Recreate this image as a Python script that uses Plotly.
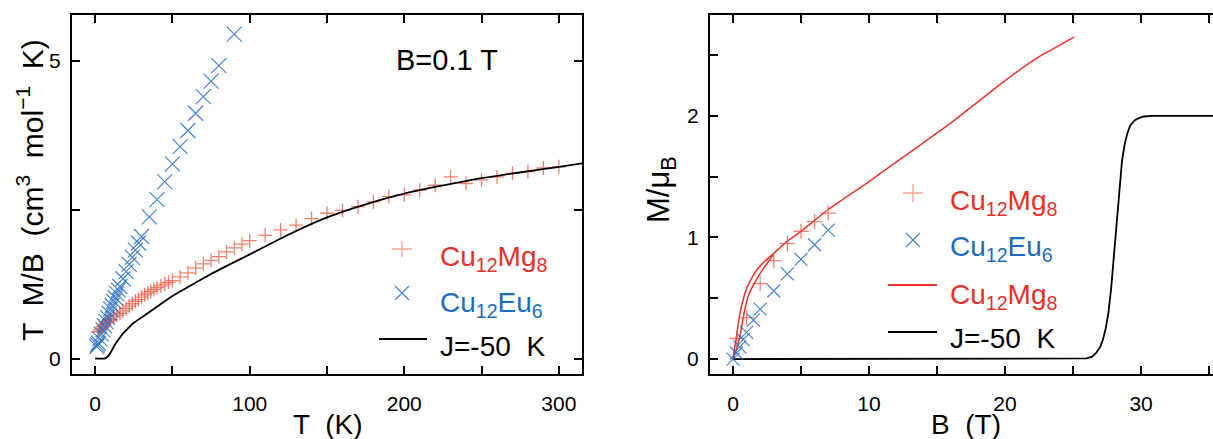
import plotly.graph_objects as go

W, H = 1213, 439
TOP, BOT = 15, 374

# ---------------- Left panel data: T M/B vs T ----------------
T_mg = [2, 3, 4, 5, 6, 7, 8, 9, 10, 12, 14, 16, 18, 20, 22, 24, 26, 28, 30, 32, 34, 36, 38, 40,
        42.5, 45, 47.5, 50, 55, 60, 65, 70, 75, 80, 85, 90, 95, 100, 110, 120, 130, 140, 150,
        160, 170, 180, 190, 200, 210, 220, 230, 240, 250, 260, 270, 280, 290, 300]
chi_mg = [0.45, 0.48, 0.51, 0.54, 0.57, 0.60, 0.62, 0.64, 0.66, 0.70, 0.73, 0.76, 0.80, 0.84,
          0.88, 0.92, 0.96, 0.99, 1.03, 1.07, 1.10, 1.13, 1.16, 1.19, 1.22, 1.25, 1.28, 1.31,
          1.37, 1.44, 1.52, 1.59, 1.65, 1.71, 1.79, 1.86, 1.92, 1.98, 2.07, 2.16, 2.24, 2.35,
          2.44, 2.49, 2.55, 2.63, 2.72, 2.75, 2.83, 2.91, 3.05, 2.94, 3.00, 3.05, 3.11, 3.14,
          3.20, 3.22]

T_eu = [1, 1.5, 2, 3, 4, 5, 6, 7, 8, 9, 10, 11, 12, 13, 14, 15, 16, 18, 20, 22, 24, 26, 28, 30,
        35, 40, 45, 50, 55, 60, 65, 70, 75, 80, 90]
chi_eu = [0.20, 0.23, 0.26, 0.33, 0.41, 0.48, 0.55, 0.62, 0.69, 0.76, 0.83, 0.89, 0.96, 1.02,
          1.09, 1.15, 1.21, 1.34, 1.46, 1.58, 1.70, 1.82, 1.94, 2.05, 2.38, 2.67, 2.97, 3.27,
          3.56, 3.83, 4.12, 4.40, 4.66, 4.92, 5.45]

T_fit = [0, 6, 8, 10, 12, 14, 16, 18, 21, 25, 30, 40, 50, 60, 75, 100, 125, 150, 175, 200,
         250, 300, 316]
chi_fit = [0, 0, 0.03, 0.10, 0.20, 0.28, 0.35, 0.42, 0.50, 0.60, 0.69, 0.87, 1.05, 1.20, 1.42,
           1.75, 2.08, 2.37, 2.59, 2.77, 3.03, 3.22, 3.28]

# ---------------- Right panel data: M vs B ----------------
B_mg = [0.3, 1, 2, 3, 4, 5, 6, 7]
M_mg = [0.17, 0.34, 0.62, 0.81, 0.95, 1.05, 1.13, 1.20]

B_eu = [0, 0.25, 0.5, 0.75, 1.0, 1.5, 2, 3, 4, 5, 6, 7]
M_eu = [0, 0.05, 0.10, 0.16, 0.22, 0.32, 0.41, 0.56, 0.70, 0.82, 0.94, 1.06]

B_calc_a = [0, 0.12, 0.25, 0.5, 0.8, 1.0, 1.3, 1.8, 2.4, 3.0, 4, 5, 7, 10, 13, 16, 20, 22, 23,
            24, 25.1]
M_calc_a = [0, 0.09, 0.18, 0.37, 0.51, 0.58, 0.65, 0.74, 0.81, 0.87, 0.97, 1.05, 1.23, 1.46,
            1.70, 1.94, 2.29, 2.45, 2.52, 2.58, 2.65]
B_calc_b = [0, 0.25, 0.5, 0.8, 1.1, 1.4, 1.7, 2.2, 2.6, 3.0]
M_calc_b = [0, 0.08, 0.18, 0.37, 0.51, 0.59, 0.65, 0.74, 0.80, 0.87]

B_J = [0, 25.5, 26.0, 26.4, 26.7, 27.0, 27.2, 27.4, 27.6, 27.8, 28.0, 28.2, 28.4, 28.6, 28.8,
       29.0, 29.2, 29.5, 29.8, 30.2, 30.8, 36]
M_J = [0, 0, 0.005, 0.02, 0.05, 0.10, 0.16, 0.25, 0.38, 0.58, 0.85, 1.15, 1.42, 1.63, 1.77,
       1.86, 1.92, 1.96, 1.98, 1.995, 2.0, 2.0]

left_xticks = [0, 100, 200, 300]
left_xminor = [50, 150, 250]
left_yticks = [0, 5]
left_yminor = [2.5]
right_xticks = [0, 10, 20, 30]
right_xminor = [5, 15, 25, 35]
right_yticks = [0, 1, 2]
right_yminor = [0.5, 1.5, 2.5]

RED_M = "rgba(240,85,65,0.75)"
RED_L = "rgba(245,140,115,0.8)"
BLUE_M = "rgba(40,110,200,0.85)"
RED_T = "#e8302a"
BLUE_T = "#1c6cc0"
RED_LINE = "#e8352b"
FONT = "Liberation Sans, Arial, sans-serif"


def px(x):
    return x / W


def py(y):
    return (BOT - y) / (BOT - TOP)


fig = go.Figure()

fig.add_trace(go.Scatter(x=T_mg, y=chi_mg, mode="markers", xaxis="x", yaxis="y",
                         marker=dict(symbol="cross-thin", size=10,
                                     line=dict(color=RED_M, width=1.3))))
fig.add_trace(go.Scatter(x=T_eu, y=chi_eu, mode="markers", xaxis="x", yaxis="y",
                         marker=dict(symbol="x-thin", size=15,
                                     line=dict(color=BLUE_M, width=1.2))))
fig.add_trace(go.Scatter(x=T_fit, y=chi_fit, mode="lines", xaxis="x", yaxis="y",
                         line=dict(color="black", width=1.8, shape="spline", smoothing=0.6)))

fig.add_trace(go.Scatter(x=B_calc_a, y=M_calc_a, mode="lines", xaxis="x2", yaxis="y2",
                         line=dict(color=RED_LINE, width=1.5, shape="spline", smoothing=0.5)))
fig.add_trace(go.Scatter(x=B_calc_b, y=M_calc_b, mode="lines", xaxis="x2", yaxis="y2",
                         line=dict(color=RED_LINE, width=1.5, shape="spline", smoothing=0.5)))
fig.add_trace(go.Scatter(x=B_J, y=M_J, mode="lines", xaxis="x2", yaxis="y2",
                         line=dict(color="black", width=1.8)))
fig.add_trace(go.Scatter(x=B_mg, y=M_mg, mode="markers", xaxis="x2", yaxis="y2",
                         marker=dict(symbol="cross-thin", size=11,
                                     line=dict(color=RED_M, width=1.3))))
fig.add_trace(go.Scatter(x=B_eu, y=M_eu, mode="markers", xaxis="x2", yaxis="y2",
                         marker=dict(symbol="x-thin", size=13,
                                     line=dict(color=BLUE_M, width=1.2))))


def axis(domain, rng, ticks, minor, mirror, anchor, standoff):
    return dict(domain=domain, range=rng, tickmode="array", tickvals=ticks,
                minor=dict(tickmode="array", tickvals=minor, ticks="inside", ticklen=8,
                           tickwidth=2, tickcolor="black"),
                mirror=mirror, anchor=anchor, showline=True, linewidth=2, linecolor="black",
                ticks="inside", ticklen=8, tickwidth=2, tickcolor="black", showgrid=False,
                zeroline=False, ticklabelstandoff=standoff,
                tickfont=dict(family=FONT, size=21, color="black"))


fig.update_layout(
    width=W, height=H, margin=dict(l=0, r=0, t=TOP, b=H - BOT),
    paper_bgcolor="white", plot_bgcolor="white", showlegend=False,
    font=dict(family=FONT, color="black"),
    xaxis=axis([px(72), px(582)], [-15, 315], left_xticks, left_xminor, "ticks", "y", 10),
    yaxis=axis([0, 1], [-0.26, 5.77], left_yticks, left_yminor, "ticks", "x", 5),
    xaxis2=axis([px(710), 1.0], [-1.69, 35.29], right_xticks, right_xminor, "ticks", "y2", 10),
    yaxis2=axis([0, 1], [-0.123, 2.83], right_yticks, right_yminor, False, "x2", 5),
)

ann = []


def text(x, y, s, size=28, color="black", xanchor="left", angle=0):
    ann.append(dict(x=px(x), y=py(y), xref="paper", yref="paper", text=s, showarrow=False,
                    xanchor=xanchor, yanchor="middle", textangle=angle,
                    font=dict(family=FONT, size=size, color=color)))


MG = "Cu<sub>12</sub>Mg<sub>8</sub>"
EU = "Cu<sub>12</sub>Eu<sub>6</sub>"
JL = "J=-50  K"

# left panel texts
text(394, 60, "B=0.1 T", size=29)
text(438, 258, MG, color=RED_T)
text(438, 304, EU, color=BLUE_T)
text(438, 346, JL)
# right panel texts
text(948, 202, MG, color=RED_T)
text(948, 249, EU, color=BLUE_T)
text(948, 296, MG, color=RED_T)
text(948, 338, JL)
# axis titles
text(327, 424, "T  (K)", xanchor="center")
text(966, 424, "B  (T)", xanchor="center")
text(30, 190, "T  M/B  (cm<sup>3</sup>  mol<sup>\u22121</sup>  K)", size=30, xanchor="center",
     angle=-90)
text(661, 190, "M/\u03bc<sub>B</sub>", size=31, xanchor="center", angle=-90)

shapes = []


def plus(x, y, hx, hy, color):
    shapes.append(dict(type="path", xref="paper", yref="paper", xsizemode="pixel",
                       ysizemode="pixel", xanchor=px(x), yanchor=py(y),
                       path=f"M{-hx},0H{hx}M0,{-hy}V{hy}",
                       line=dict(color=color, width=1.3)))


def cross(x, y, h, color):
    shapes.append(dict(type="path", xref="paper", yref="paper", xsizemode="pixel",
                       ysizemode="pixel", xanchor=px(x), yanchor=py(y),
                       path=f"M{-h},{-h}L{h},{h}M{-h},{h}L{h},{-h}",
                       line=dict(color=color, width=1.2)))


def seg(x0, x1, y, color):
    shapes.append(dict(type="line", xref="paper", yref="paper", x0=px(x0), x1=px(x1),
                       y0=py(y), y1=py(y), line=dict(color=color, width=1.8)))


plus(402, 249, 10, 8, RED_L)
cross(402, 293, 7, BLUE_M)
seg(379, 427, 339, "black")

plus(913, 193, 10, 9, RED_L)
cross(913, 240, 7, BLUE_M)
seg(888, 937, 285, RED_LINE)
seg(888, 937, 332, "black")

fig.update_layout(annotations=ann, shapes=shapes)

fig.write_html("out.html")
